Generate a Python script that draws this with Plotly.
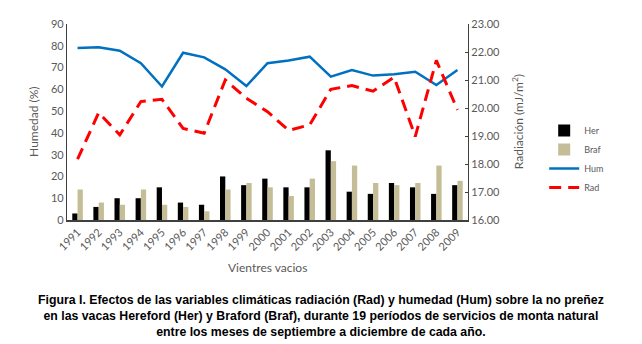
import plotly.graph_objects as go

years = [str(y) for y in range(1991, 2010)]
her = [3, 6, 10, 10, 15, 8, 7, 20, 16, 19, 15, 15, 32, 13, 12, 17, 15, 12, 16]
braf = [14, 8, 7, 14, 7, 6, 4, 14, 17, 15, 11, 19, 27, 25, 17, 16, 17, 25, 18]
hum = [79, 79.3, 77.7, 72, 61.3, 76.8, 74.7, 69.2, 61.5, 72, 73.2, 75, 65.8, 68.9, 66.3, 66.9, 68.1, 62, 68.9]
rad = [18.17, 19.83, 19.04, 20.23, 20.31, 19.27, 19.1, 21.0, 20.35, 19.87, 19.2, 19.4, 20.67, 20.8, 20.6, 21.1, 18.98, 21.7, 19.93]
left_ticks = [0, 10, 20, 30, 40, 50, 60, 70, 80, 90]
right_ticks = [16, 17, 18, 19, 20, 21, 22, 23]

gray = "#595959"
font_main = "Lato, Open Sans, sans-serif"

fig = go.Figure()
fig.add_trace(go.Bar(x=years, y=her, name="Her", marker_color="#000000", marker_line_width=0))
fig.add_trace(go.Bar(x=years, y=braf, name="Braf", marker_color="#C4BD97", marker_line_width=0))
fig.add_trace(go.Scatter(x=years, y=hum, name="Hum", mode="lines",
                         line=dict(color="#0070C0", width=2.5)))
fig.add_trace(go.Scatter(x=years, y=rad, name="Rad", mode="lines", yaxis="y2",
                         line=dict(color="#FF0000", width=3, dash="12px,7px")))

fig.update_layout(
    width=642, height=344,
    margin=dict(l=67, r=174, t=24, b=124),
    paper_bgcolor="white", plot_bgcolor="white",
    barmode="group", bargap=0.5, bargroupgap=0,
    font=dict(family=font_main, color=gray, size=11),
    xaxis=dict(type="category", tickangle=-45, showline=True, linecolor="#404040", linewidth=1.5,
               ticks="", showgrid=False, tickfont=dict(size=11, color=gray)),
    yaxis=dict(range=[0, 90], tickvals=left_ticks, showline=True, linecolor="#404040", linewidth=1.2,
               showgrid=False, zeroline=False, ticks="", tickfont=dict(size=11, color=gray)),
    yaxis2=dict(range=[16, 23], tickvals=right_ticks, tickformat=".2f", overlaying="y", side="right",
                showline=True, linecolor="#404040", linewidth=1.2, showgrid=False, zeroline=False,
                ticks="inside", ticklen=3, tickcolor="#404040", tickfont=dict(size=11, color=gray)),
    legend=dict(x=1.19, y=0.53, xanchor="left", yanchor="top", font=dict(size=9, color=gray),
                bgcolor="rgba(0,0,0,0)", tracegroupgap=4, itemwidth=30),
    showlegend=True,
)

fig.add_annotation(text="Humedad (%)", xref="paper", yref="paper", x=-0.085, y=0.5,
                   textangle=-90, showarrow=False, font=dict(size=12, color=gray), xanchor="center", yanchor="middle")
fig.add_annotation(text="Radiación (mJ/m<sup>2</sup>)", xref="paper", yref="paper", x=1.125, y=0.5,
                   textangle=-90, showarrow=False, font=dict(size=12, color=gray), xanchor="center", yanchor="middle")
fig.add_annotation(text="Vientres vacios", xref="paper", yref="paper", x=0.5, y=-0.24,
                   showarrow=False, font=dict(size=12, color=gray), xanchor="center", yanchor="middle")
fig.add_annotation(
    text="<b>Figura I. Efectos de las variables climáticas radiación (Rad) y humedad (Hum) sobre la no preñez<br>"
         "en las vacas Hereford (Her) y Braford (Braf), durante 19 períodos de servicios de monta natural<br>"
         "entre los meses de septiembre a diciembre de cada año.</b>",
    xref="paper", yref="paper", x=(321 - 67) / 401, y=(220 - 316) / 196, xanchor="center", yanchor="middle",
    showarrow=False, align="center",
    font=dict(family="Liberation Sans Narrow, Arial Narrow, sans-serif", size=12.3, color="#000000"))

fig.write_html("out.html")
